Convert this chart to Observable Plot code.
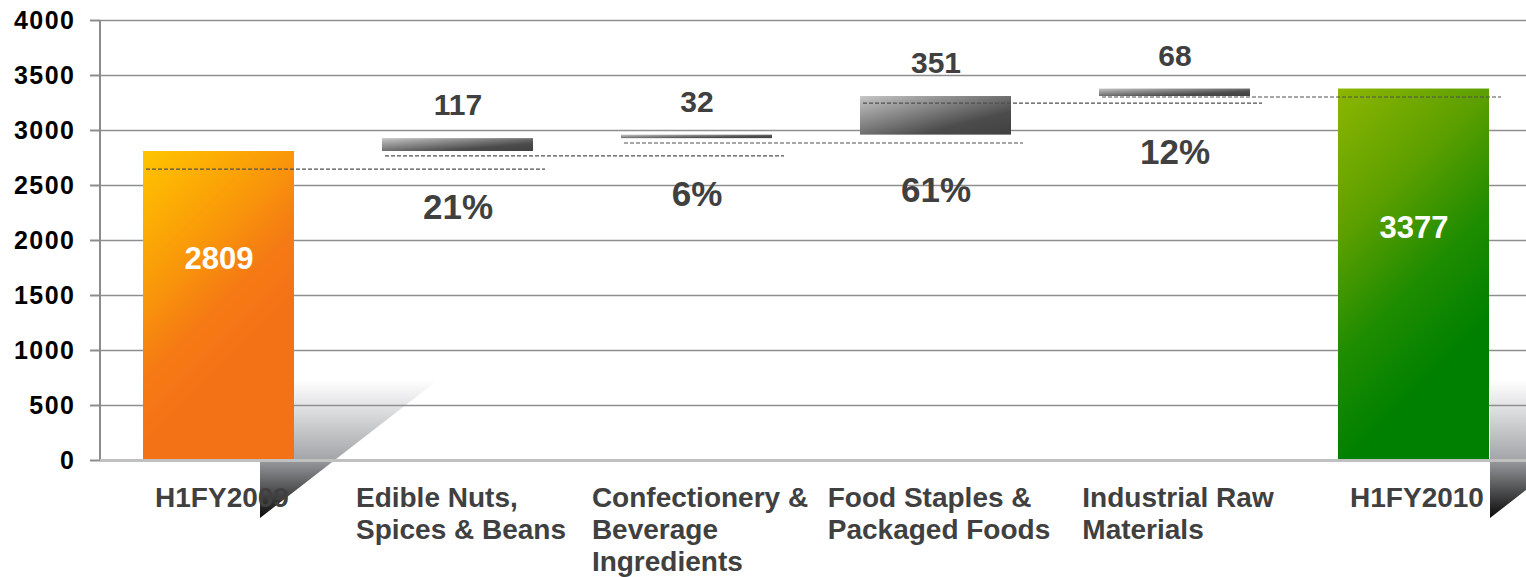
<!DOCTYPE html>
<html>
<head>
<meta charset="utf-8">
<script src="https://cdn.jsdelivr.net/npm/d3@7"></script>
<script src="https://cdn.jsdelivr.net/npm/@observablehq/plot@0.6"></script>
<style>
  html, body { margin: 0; padding: 0; background: #fff; }
  #chart svg { display: block; }
  #chart g[aria-label="y-axis tick label"] { fill: #000; font-weight: bold; font-size: 25px; letter-spacing: 1.5px; }
</style>
</head>
<body>
<div id="chart"></div>
<script>
// Half-year revenue bridge by business segment
const categories = [
  "H1FY2009",
  "Edible Nuts, Spices & Beans",
  "Confectionery & Beverage Ingredients",
  "Food Staples & Packaged Foods",
  "Industrial Raw Materials",
  "H1FY2010"
];
const categoryLines = [
  ["H1FY2009"],
  ["Edible Nuts,", "Spices & Beans"],
  ["Confectionery &", "Beverage", "Ingredients"],
  ["Food Staples &", "Packaged Foods"],
  ["Industrial Raw", "Materials"],
  ["H1FY2010"]
];
const openingTotal = 2809;
const closingTotal = 3377;
const increments = [117, 32, 351, 68];
const shares = [21, 6, 61, 12];
const connectorLevels = [2645, 2764, 2882, 3245, 3300];
const yTicks = [0, 500, 1000, 1500, 2000, 2500, 3000, 3500, 4000];

// Build the floating steps of the bridge
let running = openingTotal;
const steps = increments.map((v, i) => {
  const row = { category: categories[i + 1], base: running, top: running + v, value: v, share: shares[i] };
  running += v;
  return row;
});
const totals = [
  { category: categories[0], value: openingTotal },
  { category: categories[categories.length - 1], value: closingTotal }
];
const connectors = connectorLevels.map((level, i) => ({ from: categories[i], to: categories[i + 1], level }));

const FONT = '"Liberation Sans", Arial, Helvetica, sans-serif';
const SVGNS = "http://www.w3.org/2000/svg";

// Width of the widest line of each category label, used to center the left-aligned block
const measureCtx = document.createElement("canvas").getContext("2d");
measureCtx.font = `bold 28px ${FONT}`;
const blockWidths = categoryLines.map(lines => d3.max(lines, l => measureCtx.measureText(l).width));

function el(name, attrs) {
  const node = document.createElementNS(SVGNS, name);
  for (const k in attrs) node.setAttribute(k, attrs[k]);
  return node;
}

// Gradient definitions; the total bars use a 45° sweep anchored at their top-left corner
function gradients(index, scales) {
  const x = scales.x, y = scales.y;
  const defs = el("defs", {});
  const addStops = (g, stops) => stops.forEach(([o, c]) => g.appendChild(el("stop", { offset: o, "stop-color": c })));
  const lin = (id, x2, y2, stops) => {
    const g = el("linearGradient", { id, x1: 0, y1: 0, x2, y2 });
    addStops(g, stops);
    defs.appendChild(g);
  };
  const diag = (id, d, stops) => {
    const x0 = x(d.category), y0 = y(d.value), L = 230;
    const g = el("linearGradient", { id, gradientUnits: "userSpaceOnUse", x1: x0, y1: y0, x2: x0 + L, y2: y0 + L });
    addStops(g, stops);
    defs.appendChild(g);
  };
  diag("gOpen", totals[0], [[0, "#FFC400"], [0.28, "#FA9E08"], [0.5, "#F57A14"], [0.65, "#F47216"], [1, "#F47216"]]);
  diag("gClose", totals[1], [[0, "#8DB600"], [0.33, "#5C9F00"], [0.59, "#1F8C00"], [0.83, "#008000"], [1, "#008000"]]);
  lin("gStep", 1, 1, [[0, "#C6C6C6"], [0.7, "#4C4C4C"], [1, "#404040"]]);
  lin("gShadow", 0, 1, [[0, "#FFFFFF"], [0.18, "#E3E4E5"], [0.58, "#A2A4A7"], [0.6, "#929497"], [1, "#0A0A0A"]]);
  return defs;
}

// Drop shadows falling away from the two total bars
function shadows(index, scales) {
  const g = el("g", {});
  const x = scales.x, y = scales.y;
  const bw = x.bandwidth ? x.bandwidth() : 150;
  const yTop = y(727), yBot = y(0) + 58;
  const run = 178;
  const specs = [
    { cat: categories[0], inset: -34 },
    { cat: categories[categories.length - 1], inset: 1 }
  ];
  for (const s of specs) {
    const left = x(s.cat) + bw + s.inset;
    g.appendChild(el("polygon", {
      points: `${left},${yTop} ${left + run},${yTop} ${left},${yBot}`,
      fill: "url(#gShadow)"
    }));
  }
  return g;
}

// Vertical axis line
function axisLine(index, scales, values, dims) {
  return el("line", {
    x1: dims.marginLeft, x2: dims.marginLeft,
    y1: scales.y(4000), y2: scales.y(0),
    stroke: "#8c8c8c", "stroke-width": 2
  });
}

// Dashed connectors between neighbouring steps
function connectorLines(index, scales) {
  const g = el("g", {});
  const x = scales.x, y = scales.y;
  const bw = x.bandwidth ? x.bandwidth() : 150;
  for (const c of connectors) {
    g.appendChild(el("line", {
      x1: x(c.from) + 3, x2: x(c.to) + bw + 12,
      y1: y(c.level), y2: y(c.level),
      stroke: "#505050", "stroke-width": 1.2, "stroke-dasharray": "4,2"
    }));
  }
  return g;
}

const categoryLabelMarks = categories.map((cat, i) =>
  Plot.text([cat], {
    x: d => d,
    y: () => 0,
    text: () => categoryLines[i].join("\n"),
    textAnchor: "start",
    lineAnchor: "top",
    lineHeight: 32 / 28,
    dx: -blockWidths[i] / 2 + 3,
    dy: 24,
    fontSize: 28,
    fontWeight: "bold",
    fill: "#404040"
  })
);

const chart = Plot.plot({
  width: 1526,
  height: 577,
  marginTop: 20,
  marginBottom: 117,
  marginLeft: 100,
  marginRight: 0,
  style: { fontFamily: FONT, background: "#fff" },
  x: { type: "band", domain: categories, range: [98, 1534], paddingInner: 0.37, paddingOuter: 0.185, axis: null },
  y: { domain: [0, 4000], axis: null },
  marks: [
    gradients,
    shadows,
    Plot.gridY(yTicks.filter(d => d > 0), { stroke: "#8e8e8e", strokeOpacity: 1, strokeWidth: 1.5 }),
    axisLine,
    Plot.barY(totals.slice(0, 1), { x: "category", y: "value", fill: "url(#gOpen)" }),
    Plot.barY(totals.slice(1), { x: "category", y: "value", fill: "url(#gClose)" }),
    Plot.barY(steps, { x: "category", y1: "base", y2: "top", fill: "url(#gStep)" }),
    Plot.ruleY([0], { stroke: "#c0c0c0", strokeWidth: 3 }),
    connectorLines,
    Plot.text(totals, { x: "category", y: d => d.value / 2, text: d => String(d.value), dy: -47, fill: "#fff", fontSize: 31, fontWeight: "bold" }),
    Plot.text(steps, { x: "category", y: "top", text: d => String(d.value), dy: -33, fill: "#404040", fontSize: 30, fontWeight: "bold" }),
    Plot.text(steps, { x: "category", y: "base", text: d => `${d.share}%`, dy: 56, fill: "#404040", fontSize: 35, fontWeight: "bold" }),
    ...categoryLabelMarks,
    Plot.axisY(yTicks, { tickSize: 10, tickPadding: 15, tickFormat: d => String(d), stroke: "#8c8c8c", strokeWidth: 2, label: null, fontSize: 25, fontWeight: "bold" })
  ]
});

document.getElementById("chart").appendChild(chart);
</script>
</body>
</html>
